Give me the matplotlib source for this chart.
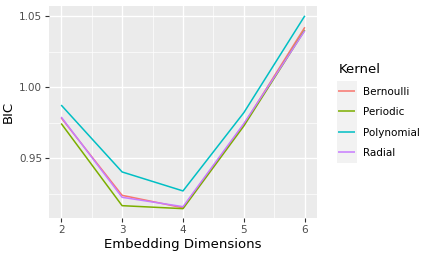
import matplotlib
matplotlib.use("Agg")
import matplotlib.pyplot as plt
from matplotlib.patches import Rectangle

dims = [2, 3, 4, 5, 6]
kernels = ["Bernoulli", "Periodic", "Polynomial", "Radial"]
bernoulli = [0.9785, 0.9238, 0.9150, 0.9738, 1.0424]
periodic = [0.9745, 0.9165, 0.9144, 0.9728, 1.0405]
polynomial = [0.9875, 0.9403, 0.9269, 0.9822, 1.0505]
radial = [0.9791, 0.9224, 0.9158, 0.9745, 1.0400]
colors = ["#F8766D", "#7CAE00", "#00BFC4", "#C77CFF"]
yticks = [0.95, 1.00, 1.05]

W, H = 429, 257
fig = plt.figure(figsize=(W/100, H/100), dpi=100)
ax = fig.add_axes([49/W, 1-218/H, (317-49)/W, (218-6)/H])
ax.set_facecolor("#EBEBEB")
for s in ax.spines.values():
    s.set_visible(False)

for name, vals, c in zip(kernels, [bernoulli, periodic, polynomial, radial], colors):
    ax.plot(dims, vals, color=c, lw=1.1, label=name, solid_capstyle="butt")

ax.set_xlim(1.8, 6.2)
ax.set_ylim(0.9078, 1.0574)
ax.set_xticks(dims)
ax.set_yticks(yticks)
ax.set_yticklabels(["0.95", "1.00", "1.05"])
ax.set_xticks([2.5, 3.5, 4.5, 5.5], minor=True)
ax.set_yticks([0.925, 0.975, 1.025], minor=True)
ax.grid(True, which="major", color="white", lw=1.0)
ax.grid(True, which="minor", color="white", lw=0.5)
ax.set_axisbelow(True)
ax.tick_params(which="major", length=3, color="#333333", labelsize=7.5, labelcolor="#4D4D4D", pad=2)
ax.tick_params(which="minor", length=0)
ax.set_xlabel("Embedding Dimensions", fontsize=9.5, labelpad=2)
ax.set_ylabel("BIC", fontsize=9.5, labelpad=3)

fig.patches.append(Rectangle((337/W, 1-163/H), 20/W, (163-81)/H, transform=fig.transFigure,
                             facecolor="#F2F2F2", edgecolor="none", zorder=0))
leg = fig.legend(loc="upper left", bbox_to_anchor=(331/W, 1-56/H), frameon=False,
                 title="Kernel", fontsize=7.5, title_fontsize=9.5,
                 handlelength=1.6, handletextpad=0.8, labelspacing=1.0, borderpad=0.2)
leg._legend_box.align = "left"
fig.savefig("out.png", dpi=100)
